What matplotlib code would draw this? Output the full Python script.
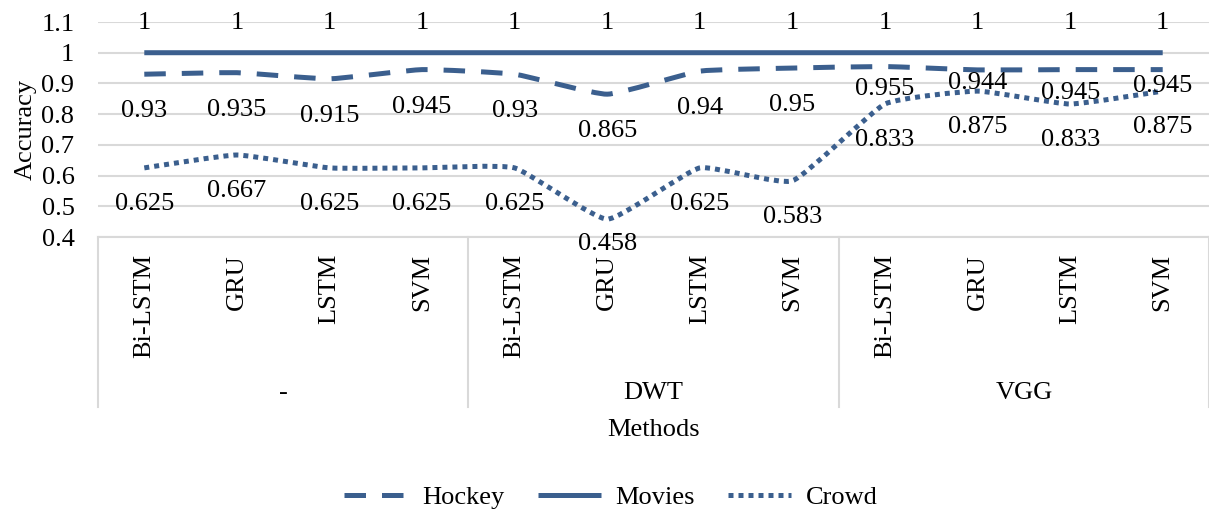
import numpy as np
import matplotlib
matplotlib.use('Agg')
import matplotlib.pyplot as plt
from matplotlib.path import Path
from matplotlib.patches import PathPatch
from matplotlib.lines import Line2D

plt.rcParams['font.family'] = ['Liberation Serif', 'DejaVu Serif']
plt.rcParams['font.size'] = 19

methods = ['Bi-LSTM', 'GRU', 'LSTM', 'SVM'] * 3
groups = ['-', 'DWT', 'VGG']
hockey = [0.93, 0.935, 0.915, 0.945, 0.93, 0.865, 0.94, 0.95, 0.955, 0.944, 0.945, 0.945]
movies = [1, 1, 1, 1, 1, 1, 1, 1, 1, 1, 1, 1]
crowd = [0.625, 0.667, 0.625, 0.625, 0.625, 0.458, 0.625, 0.583, 0.833, 0.875, 0.833, 0.875]

color = '#3b5f8e'
grid_color = '#d9d9d9'
lw = 3.6

W, H = 1209, 513
fig = plt.figure(figsize=(W / 100, H / 100), dpi=100)
ax = fig.add_axes([98 / W, (H - 237) / H, (W - 98) / W, (237 - 22) / H])
ax.set_xlim(-0.5, 11.5)
ax.set_ylim(0.4, 1.1)
ax.set_yticks(np.arange(0.4, 1.11, 0.1))
ax.set_yticklabels(['0.4', '0.5', '0.6', '0.7', '0.8', '0.9', '1', '1.1'])
ax.set_xticks([])
ax.tick_params(axis='y', length=0, pad=17)
for s in ax.spines.values():
    s.set_visible(False)
ax.yaxis.grid(True, color=grid_color, lw=1.5)
ax.set_axisbelow(True)
ax.set_ylabel('Accuracy', labelpad=3)


def smooth_path(ys, k=0.07):
    # smoothed line: cubic bezier through the points, gentle tangents
    pts = np.column_stack([np.arange(len(ys)), ys]).astype(float)
    verts = [pts[0]]
    codes = [Path.MOVETO]
    for i in range(len(pts) - 1):
        p0 = pts[max(i - 1, 0)]
        p1 = pts[i]
        p2 = pts[i + 1]
        p3 = pts[min(i + 2, len(pts) - 1)]
        verts += [p1 + (p2 - p0) * k, p2 - (p3 - p1) * k, p2]
        codes += [Path.CURVE4] * 3
    return Path(verts, codes)


styles = {
    'Hockey': (0, (4.3, 3.2)),
    'Movies': '-',
    'Crowd': (0, (1.0, 1.0)),
}
series = [('Hockey', hockey), ('Movies', movies), ('Crowd', crowd)]
for name, ys in series:
    ax.add_patch(PathPatch(smooth_path(ys), fill=False, edgecolor=color, lw=lw,
                           linestyle=styles[name], capstyle='butt', joinstyle='round'))

# data labels (pixel offsets of label centre)
offsets = {
    'Hockey': [-37] * 8 + [-22, -13, -23, -16],
    'Movies': [30] * 12,
    'Crowd': [-36] * 5 + [-25] + [-36] * 6,
}
for name, ys in series:
    for i, v in enumerate(ys):
        ax.annotate(f'{v:g}', xy=(i, v), xytext=(0, offsets[name][i]),
                    textcoords='offset pixels', ha='center', va='center',
                    annotation_clip=False)

# multi-level category axis
xt = ax.get_xaxis_transform()
bottom = -(407 - 237) / 215
ax.plot([-0.5, 11.5], [0, 0], color=grid_color, lw=1.5, transform=xt, clip_on=False)
for b in [-0.5, 3.5, 7.5, 11.5]:
    ax.plot([b, b], [0, bottom], color=grid_color, lw=1.5, transform=xt, clip_on=False)
for i, m in enumerate(methods):
    ax.annotate(m, xy=(i, 0), xycoords=xt, xytext=(0, -17), textcoords='offset pixels',
                rotation=90, ha='center', va='top')
for g, name in enumerate(groups):
    ax.annotate(name, xy=(g * 4 + 1.5, 0), xycoords=xt, xytext=(0, -(393 - 237)),
                textcoords='offset pixels', ha='center', va='center')

fig.text(654 / W, (H - 430) / H, 'Methods', ha='center', va='center')

handles = [Line2D([], [], color=color, lw=lw, linestyle=styles[n], solid_capstyle='butt',
                  dash_capstyle='butt') for n, _ in series]
fig.legend(handles, [n for n, _ in series], loc='center', ncol=3, frameon=False,
           bbox_to_anchor=(611 / W, (H - 497) / H), handlelength=2.4,
           handletextpad=0.55, columnspacing=1.25)

fig.savefig('out.png', dpi=100)
